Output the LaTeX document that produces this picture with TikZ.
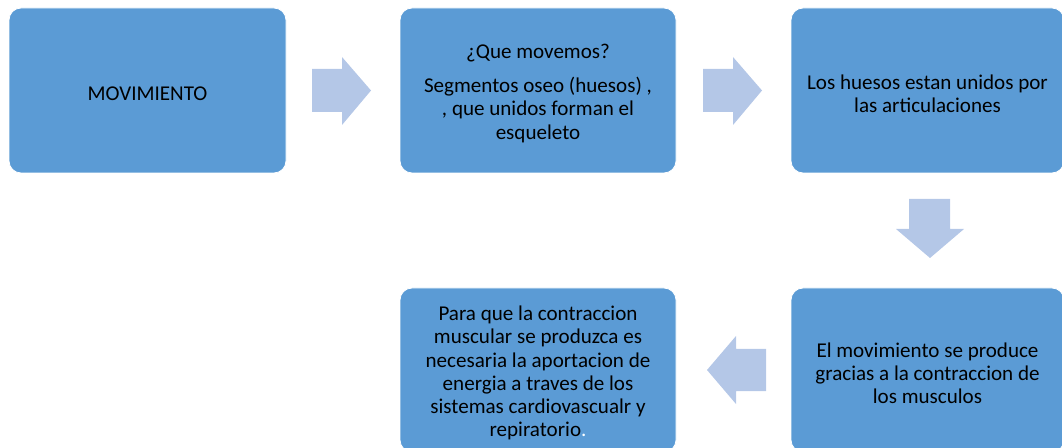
\documentclass[tikz,border=0pt]{standalone}
\usepackage{fontspec}
\setmainfont{Carlito}
\definecolor{boxblue}{HTML}{5B9BD5}
\definecolor{arrowblue}{HTML}{B4C7E7}
\begin{document}
\begin{tikzpicture}[x=0.75pt,y=-0.75pt,
  box/.style={rectangle, rounded corners=9pt, fill=boxblue, draw=white, line width=0.6pt,
    inner sep=0pt},
  boxtext/.style={inner sep=0pt, align=center, text=black, yshift=-2.25pt,
    font=\fontsize{15.8}{17.4}\selectfont},
  blockarrow/.style={fill=arrowblue}]
\useasboundingbox (0,0) rectangle (1062,448);
\clip (0,0) rectangle (1062,448);
\node[box, minimum width=207.75pt, minimum height=123.75pt] (b1) at (147.5,90.5) {};
\node[box, minimum width=207pt, minimum height=123.75pt] (b2) at (538,90.5) {};
\node[box, minimum width=204.75pt, minimum height=123.75pt] (b3) at (927.5,90.5) {};
\node[box, minimum width=204.75pt, minimum height=123pt] (b4) at (927.5,370) {};
\node[box, minimum width=207pt, minimum height=123pt] (b5) at (538,370) {};
\node[boxtext] (t1) at (b1.center) {MOVIMIENTO};
\node[boxtext] (t2) at (b2.center)
  {¿Que movemos?\\[8pt]Segmentos oseo (huesos) ,\\, que unidos forman el\\esqueleto};
\node[boxtext] (t3) at (b3.center) {Los huesos estan unidos por\\las articulaciones};
\node[boxtext] (t4) at (b4.center)
  {El movimiento se produce\\gracias a la contraccion de\\los musculos};
\node[boxtext] (t5) at (b5.center)
  {Para que la contraccion\\muscular se produzca es\\necesaria la aportacion de\\energia a traves de los\\sistemas cardiovascualr y\\repiratorio\textcolor{white}{.}};
% block arrows
\fill[blockarrow] (312,69) -- (342,69) -- (342,57) -- (371,90.5) -- (342,125) -- (342,112) -- (312,112) -- cycle;
\fill[blockarrow] (703,69) -- (733,69) -- (733,57) -- (762,90.5) -- (733,125) -- (733,112) -- (703,112) -- cycle;
\fill[blockarrow] (909,199) -- (950,199) -- (950,229) -- (964,229) -- (930,258) -- (896,229) -- (909,229) -- cycle;
\fill[blockarrow] (766,349) -- (736,349) -- (736,336) -- (707,370) -- (736,404) -- (736,391) -- (766,391) -- cycle;
\end{tikzpicture}
\end{document}
